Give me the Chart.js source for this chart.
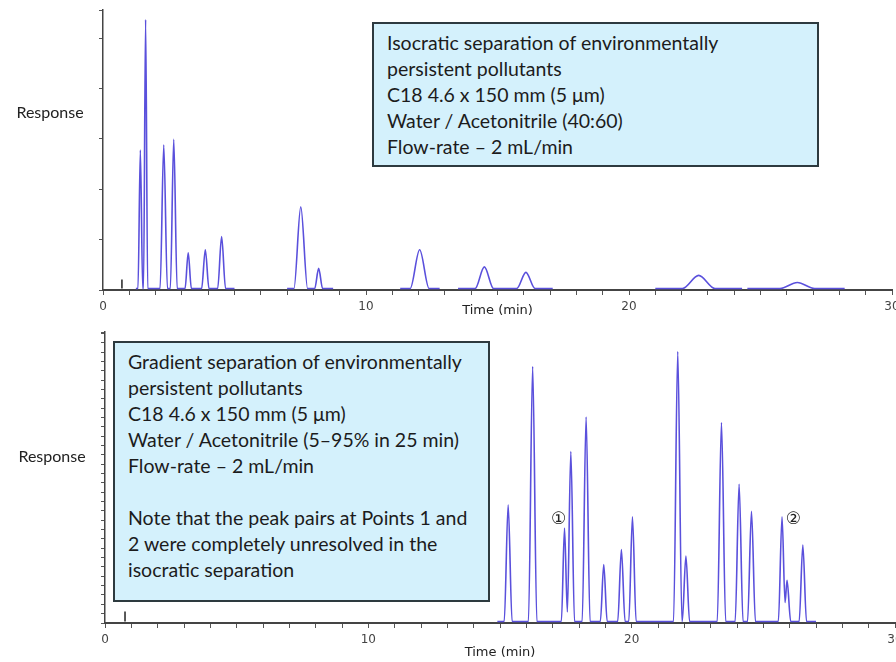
<!DOCTYPE html>
<html>
<head>
<meta charset="utf-8">
<title>Isocratic vs gradient separation</title>
<script src="https://cdn.jsdelivr.net/npm/chart.js@4.4.1/dist/chart.umd.min.js"></script>
<style>
    html, body { margin: 0; padding: 0; background: #fff; }
    body { width: 896px; height: 662px; position: relative; overflow: hidden; font-family: Lato, 'Open Sans', sans-serif; }
    canvas { position: absolute; left: 0; }
    #isoChart { top: 0; }
    #gradChart { top: 320px; }
    .response { position: absolute; font-size: 16px; color: #222; transform: translate(-50%, -50%); }
    .note {
        position: absolute; box-sizing: border-box;
        background: #d4f1fc; border: 2px solid #2d3a3f;
        padding: 6px 0 0 13px;
        font-size: 19.5px; line-height: 26px; color: #1c1c1c; white-space: nowrap;
    }
</style>
</head>
<body>
<canvas id="isoChart" width="896" height="320"></canvas>
<canvas id="gradChart" width="896" height="342"></canvas>

<div class="response" style="left:50px; top:111px;">Response</div>
<div class="response" style="left:52px; top:455px;">Response</div>

<div class="note" style="left:372px; top:22px; width:447px; height:145px;">
    Isocratic separation of environmentally<br>
    persistent pollutants<br>
    C18 4.6 x 150 mm (5 μm)<br>
    Water / Acetonitrile (40:60)<br>
    Flow-rate – 2 mL/min
</div>
<div class="note" style="left:113px; top:341px; width:377px; height:261px;">
    Gradient separation of environmentally<br>
    persistent pollutants<br>
    C18 4.6 x 150 mm (5 μm)<br>
    Water / Acetonitrile (5–95% in 25 min)<br>
    Flow-rate – 2 mL/min<br>
    <br>
    Note that the peak pairs at Points 1 and<br>
    2 were completely unresolved in the<br>
    isocratic separation
</div>

<script>
// Isocratic run (top): retention time (min), height (tick units), half base width (min)
const isoTimes   = [1.42, 1.62, 2.31, 2.69, 3.24, 3.89, 4.51, 7.52, 8.20, 12.04, 14.5, 16.08, 22.65, 26.4];
const isoHeights = [2.75, 5.34, 2.85, 2.96, 0.71, 0.77, 1.03, 1.62, 0.40, 0.77, 0.43, 0.32, 0.26, 0.12];
const isoWidths  = [0.09, 0.08, 0.14, 0.13, 0.12, 0.14, 0.15, 0.26, 0.15, 0.36, 0.35, 0.35, 0.62, 0.66];
const isoSegments = [[1.25, 5.0], [7.0, 8.75], [11.3, 12.8], [13.5, 17.1], [21.0, 24.3], [24.5, 28.2]];
const isoInjection = [0.72, 0.18];

// Gradient run (bottom)
const gradTimes   = [15.31, 16.24, 17.45, 17.69, 18.27, 18.94, 19.61, 20.03, 21.75, 22.06, 23.41, 24.08, 24.55, 25.71, 25.9, 26.5];
const gradHeights = [12.5, 27.3, 10.0, 18.2, 21.9, 6.1, 7.7, 11.2, 28.9, 7.0, 21.3, 14.7, 11.8, 11.2, 4.4, 8.2];
const gradWidths  = [0.15, 0.16, 0.12, 0.14, 0.15, 0.13, 0.14, 0.14, 0.16, 0.14, 0.16, 0.15, 0.15, 0.14, 0.14, 0.14];
const gradSegments = [[14.9, 27.0]];
const gradInjection = [0.76, 1.06];

// circled point labels on the gradient run
const markTexts  = ['①', '②'];
const markTimes  = [17.23, 26.14];
const markLevels = [10.9, 10.9];

const timeTicks = [0, 10, 20, 30];

document.addEventListener('DOMContentLoaded', function() {
    makeChart('isoChart', {
        trace: buildTrace(isoSegments, isoTimes, isoHeights, isoWidths),
        injection: isoInjection,
        yMin: -0.03,
        yMax: 5.53,
        axisLeft: 103,
        axisHeight: 30,
        padding: {left: 0, right: 4, top: 10, bottom: 0},
        marks: null
    });
    makeChart('gradChart', {
        trace: buildTrace(gradSegments, gradTimes, gradHeights, gradWidths),
        injection: gradInjection,
        yMin: -0.16,
        yMax: 31,
        axisLeft: 105,
        axisHeight: 39,
        padding: {left: 0, right: 1, top: 12, bottom: 0},
        marks: {texts: markTexts, times: markTimes, levels: markLevels}
    });
});

// Turn peak lists into line vertices; null breaks the trace between segments
function buildTrace(segments, times, heights, widths) {
    const points = [];
    segments.forEach(function(seg) {
        points.push({x: seg[0], y: 0});
        let prev = -1;
        times.forEach(function(t, i) {
            if (t < seg[0] || t > seg[1]) return;
            const left = t - widths[i];
            if (prev >= 0 && times[prev] + widths[prev] > left) {
                // overlapping pair: the flanks meet above the baseline
                points.pop();
                const a = heights[prev] / widths[prev];
                const b = heights[i] / widths[i];
                const x = (a * (times[prev] + widths[prev]) + b * left) / (a + b);
                points.push({x: x, y: b * (x - left)});
            } else {
                points.push({x: left, y: 0});
            }
            points.push({x: t, y: heights[i]});
            points.push({x: t + widths[i], y: 0});
            prev = i;
        });
        points.push({x: seg[1], y: 0});
        points.push({x: seg[1], y: null});
    });
    return points;
}

function makeChart(id, cfg) {
    const ctx = document.getElementById(id).getContext('2d');

    const markPlugin = {
        id: 'marks',
        afterDatasetsDraw: function(chart) {
            if (!cfg.marks) return;
            const c = chart.ctx;
            c.save();
            c.font = '17px "DejaVu Sans"';
            c.fillStyle = '#222';
            c.textAlign = 'center';
            c.textBaseline = 'middle';
            cfg.marks.texts.forEach(function(txt, i) {
                const x = chart.scales.x.getPixelForValue(cfg.marks.times[i]);
                const y = chart.scales.y.getPixelForValue(cfg.marks.levels[i]);
                c.fillText(txt, x, y);
            });
            c.restore();
        }
    };

    new Chart(ctx, {
        type: 'line',
        data: {
            datasets: [{
                data: cfg.trace,
                borderColor: '#5a50dc',
                borderWidth: 1.6,
                pointRadius: 0,
                cubicInterpolationMode: 'monotone',
                spanGaps: false
            }, {
                data: [{x: cfg.injection[0], y: 0}, {x: cfg.injection[0], y: cfg.injection[1]}],
                borderColor: '#222',
                borderWidth: 1.5,
                pointRadius: 0
            }]
        },
        options: {
            responsive: false,
            animation: false,
            layout: {padding: cfg.padding},
            plugins: {
                legend: {display: false},
                tooltip: {enabled: false}
            },
            scales: {
                x: {
                    type: 'linear',
                    min: 0,
                    max: 30,
                    afterFit: function(scale) {
                        scale.height = cfg.axisHeight;
                        scale.paddingLeft = 0;
                        scale.paddingRight = 0;
                    },
                    border: {display: true, color: '#444', width: 2},
                    grid: {drawOnChartArea: false, drawTicks: true, tickLength: 5, tickColor: '#555', tickWidth: 1},
                    ticks: {
                        stepSize: 1,
                        autoSkip: false,
                        maxTicksLimit: 100,
                        maxRotation: 0,
                        padding: 5,
                        color: '#444',
                        font: {family: 'DejaVu Sans', size: 12},
                        callback: function(value) {
                            return timeTicks.includes(value) ? String(value) : '';
                        }
                    },
                    title: {
                        display: true,
                        text: 'Time (min)',
                        color: '#222',
                        font: {family: 'DejaVu Sans', size: 13},
                        padding: {top: 0, bottom: 2}
                    }
                },
                y: {
                    min: cfg.yMin,
                    max: cfg.yMax,
                    bounds: 'data',
                    afterFit: function(scale) {
                        scale.width = cfg.axisLeft;
                        scale.paddingTop = 0;
                        scale.paddingBottom = 0;
                    },
                    border: {display: true, color: '#444', width: 1.5},
                    grid: {drawOnChartArea: false, tickLength: 4, tickColor: '#555', tickWidth: 1},
                    ticks: {
                        stepSize: 1,
                        includeBounds: false,
                        autoSkip: false,
                        maxTicksLimit: 100,
                        padding: 0,
                        callback: function() { return ''; }
                    }
                }
            }
        },
        plugins: [markPlugin]
    });
}
</script>
</body>
</html>
